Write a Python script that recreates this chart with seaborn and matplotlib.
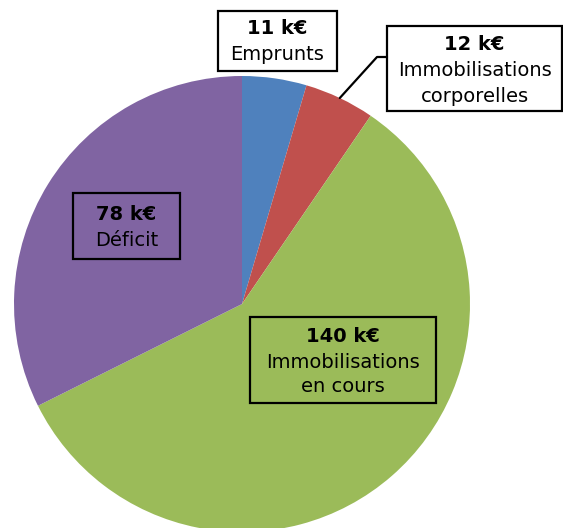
import matplotlib
matplotlib.use("Agg")
import matplotlib.pyplot as plt
import seaborn as sns
import numpy as np
from matplotlib.patches import Rectangle

sns.set_theme(style="white")
plt.rcParams['font.family'] = ['DejaVu Sans']

categories = ["Emprunts", "Immobilisations\ncorporelles", "Immobilisations\nen cours", "Déficit"]
values = [11, 12, 140, 78]
value_labels = ["11 k€", "12 k€", "140 k€", "78 k€"]
colors = ["#4F81BD", "#C0504D", "#9BBB59", "#8064A2"]

W, H = 563, 528
fig = plt.figure(figsize=(W / 100, H / 100), dpi=100)
ax = fig.add_axes([0, 0, 1, 1])

cx, cy, r = 242, H - 304, 228
wedges, _ = ax.pie(values, colors=colors, startangle=90, counterclock=False,
                   center=(cx, cy), radius=r, frame=True,
                   wedgeprops=dict(linewidth=0))
ax.set_xlim(0, W)
ax.set_ylim(0, H)
ax.set_aspect('equal')
ax.axis('off')

# label boxes: (left, top, right, bottom) in pixel coords, line y centers
boxes = {
    0: dict(box=(218, 11, 337, 71), lines=[29, 55]),
    1: dict(box=(387, 26, 562, 111), lines=[45, 71, 96]),
    2: dict(box=(250, 317, 436, 403), lines=[336, 362, 387]),
    3: dict(box=(73, 193, 180, 259), lines=[215, 241]),
}
fs = 14
for i, spec in boxes.items():
    l, t, rr, b = spec["box"]
    ax.add_patch(Rectangle((l, H - b), rr - l, b - t, fill=False,
                           edgecolor="black", linewidth=1.6, zorder=5))
    xc = (l + rr) / 2
    texts = [value_labels[i]] + categories[i].split("\n")
    for j, (txt, yy) in enumerate(zip(texts, spec["lines"])):
        ax.text(xc, H - yy, txt, ha="center", va="center", fontsize=fs,
                fontweight="bold" if j == 0 else "normal", color="black", zorder=6)

# leader line for the small red slice
w = wedges[1]
mid = np.deg2rad((w.theta1 + w.theta2) / 2)
px, py = cx + r * np.cos(mid), cy + r * np.sin(mid)
ax.plot([px, 377, 387], [py, H - 57, H - 57], color="black", linewidth=1.6, zorder=4)

fig.savefig("out.png", dpi=100)
